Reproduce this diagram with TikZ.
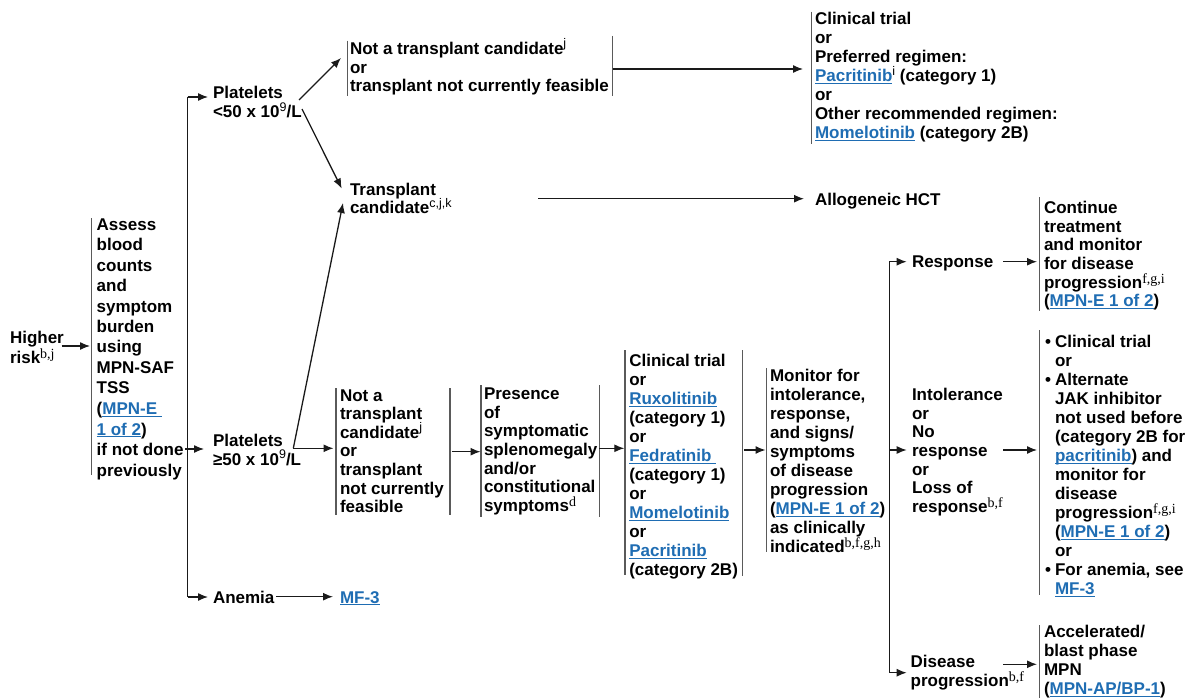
\documentclass[tikz,border=0pt]{standalone}
\usepackage{fontspec}
\setmainfont{Liberation Sans}
\newfontfamily\serifsup{Liberation Serif}
\usetikzlibrary{arrows.meta}
\definecolor{lnk}{HTML}{1F6DB3}
\definecolor{barc}{HTML}{5A5A5A}
\definecolor{linec}{HTML}{1A1A1A}
\newcommand{\lk}[1]{{\color{lnk}\setbox0=\hbox{#1}\rlap{\rule[-2.2pt]{\wd0}{1.1pt}}\box0}}
\newcommand{\ssup}[1]{\raisebox{6.5pt}[0pt][0pt]{\fontsize{12.5}{12.5}\selectfont\mdseries #1}}
\newcommand{\rsup}[1]{\raisebox{5pt}[0pt][0pt]{\fontsize{14}{14}\selectfont\serifsup\mdseries #1}}
\newcommand{\tb}[2]{{\fontsize{17}{#1}\selectfont\begin{tabular}[t]{@{}l@{}}#2\end{tabular}}}
\newcommand{\bul}{\makebox[10pt][l]{\textbullet}}
\newcommand{\ind}{\hspace*{10pt}}
\tikzset{
  txt/.style={anchor=base west, inner sep=0pt, outer sep=0pt, font=\fontsize{17}{19}\selectfont\bfseries},
  bar/.style={draw=barc, line width=1.5pt},
  arr/.style={draw=linec, line width=1.3pt, -{Latex[length=10pt,width=8pt]}},
  trunk/.style={draw=linec, line width=1.3pt},
}
\begin{document}
\begin{tikzpicture}[x=1pt, y=-1pt]
\useasboundingbox (0,0) rectangle (1200,698);
\fill[white] (0,0) rectangle (1200,698);

% ---------- text nodes ----------
\node[txt] (risk) at (10,343) {\tb{20.5}{Higher\\risk\rsup{b,j}}};
\node[txt] (assess) at (96.7,230) {\tb{20.5}{Assess\\blood\\counts\\and\\symptom\\burden\\using\\MPN-SAF\\TSS\\(\lk{MPN-E\ }\\\lk{1 of 2})\\if not done\\previously}};
\node[txt] (plt1) at (213,99) {\tb{18.7}{Platelets\\<50 x 10\ssup{9}/L}};
\node[txt] (ntc1) at (350,54.3) {\tb{18.8}{Not a transplant candidate\ssup{j}\\or\\transplant not currently feasible}};
\node[txt] (trialA) at (815,25) {\tb{19}{Clinical trial\\or\\Preferred regimen:\\\lk{Pacritinib}\ssup{i} (category 1)\\or\\Other recommended regimen:\\\lk{Momelotinib} (category 2B)}};
\node[txt] (tc) at (350,196) {\tb{18}{Transplant\\candidate\ssup{c,j,k}}};
\node[txt] (hct) at (815,205) {Allogeneic HCT};
\node[txt] (plt2) at (213,446) {\tb{19}{Platelets\\≥50 x 10\ssup{9}/L}};
\node[txt] (ntc2) at (340,401) {\tb{18.6}{Not a\\transplant\\candidate\ssup{j}\\or\\transplant\\not currently\\feasible}};
\node[txt] (pres) at (484,399.3) {\tb{18.7}{Presence\\of\\symptomatic\\splenomegaly\\and/or\\constitutional\\symptoms\rsup{d}}};
\node[txt] (trialB) at (629.3,366.7) {\tb{19}{Clinical trial\\or\\\lk{Ruxolitinib}\\(category 1)\\or\\\lk{Fedratinib\ }\\(category 1)\\or\\\lk{Momelotinib}\\or\\\lk{Pacritinib}\\(category 2B)}};
\node[txt] (mon) at (770,381) {\tb{19.07}{Monitor for\\intolerance,\\response,\\and signs/\\symptoms\\of disease\\progression\\(\lk{MPN-E 1 of 2})\\as clinically\\indicated\rsup{b,f,g,h}}};
\node[txt] (anem) at (213,603) {Anemia};
\node[txt] (mfthree) at (340,603) {\lk{MF-3}};
\node[txt] (resp) at (912,267) {Response};
\node[txt] (cont) at (1044,213.3) {\tb{18.7}{Continue\\treatment\\and monitor\\for disease\\progression\rsup{f,g,i}\\(\lk{MPN-E 1 of 2})}};
\node[txt] (intol) at (912,400.3) {\tb{18.7}{Intolerance\\or\\No\\response\\or\\Loss of\\response\rsup{b,f}}};
\node[txt] (alt) at (1045,347.7) {\tb{19}{\bul Clinical trial\\\ind or\\\bul Alternate\\\ind JAK inhibitor\\\ind not used before\\\ind (category 2B for\\\ind \lk{pacritinib}) and\\\ind monitor for\\\ind disease\\\ind progression\rsup{f,g,i}\\\ind (\lk{MPN-E 1 of 2})\\\ind or\\\bul For anemia, see\\\ind \lk{MF-3}}};
\node[txt] (dprog) at (910.7,667.7) {\tb{18.3}{Disease\\progression\rsup{b,f}}};
\node[txt] (accel) at (1044,637.7) {\tb{19}{Accelerated/\\blast phase\\MPN\\(\lk{MPN-AP/BP-1})}};

% ---------- bars ----------
\draw[bar] (91.7,218.3) -- (91.7,475);
\draw[bar] (347.3,40.7) -- (347.3,95.7);
\draw[bar] (612.7,36) -- (612.7,95.7);
\draw[bar] (811.7,11.7) -- (811.7,144);
\draw[bar] (336,388.3) -- (336,515);
\draw[bar] (450,388.3) -- (450,515);
\draw[bar] (481,385) -- (481,516.7);
\draw[bar] (599.3,385) -- (599.3,516.7);
\draw[bar] (625,350) -- (625,575);
\draw[bar] (742.7,350) -- (742.7,576);
\draw[bar] (766.7,368.3) -- (766.7,551.7);
\draw[bar] (1039.3,197.3) -- (1039.3,310.7);
\draw[bar] (1039.3,330) -- (1039.3,595);
\draw[bar] (1039.3,625) -- (1039.3,698);

% ---------- connector end points ----------
\coordinate (riskE) at (61.7,346);
\coordinate (assessW) at (90,346);
\coordinate (assessE) at (185,449);
\coordinate (plt2W) at (204,449);
\coordinate (tkTop) at (187.7,97);
\coordinate (tkBot) at (187.7,597);
\coordinate (plt1W) at (208,97);
\coordinate (anemW) at (208,597);
\coordinate (plt1U) at (299,100);
\coordinate (plt1D) at (302,109);
\coordinate (ntc1W) at (341,58);
\coordinate (tcNW) at (341.7,188.5);
\coordinate (tcSW) at (343,203);
\coordinate (plt2E) at (293.3,448.3);
\coordinate (ntc2W) at (333.5,448.3);
\coordinate (ntc1E) at (612.7,69);
\coordinate (trialAW) at (803,69);
\coordinate (tcE) at (538.3,198.7);
\coordinate (hctW) at (804,198.7);
\coordinate (ntc2E) at (451.7,451.7);
\coordinate (presW) at (480.5,451.7);
\coordinate (presE) at (599.3,448.3);
\coordinate (trialBW) at (624.3,448.3);
\coordinate (trialBE) at (744,450);
\coordinate (monW) at (765.5,450);
\coordinate (tk2Top) at (889.3,261.7);
\coordinate (tk2Mid) at (889.3,450);
\coordinate (tk2Bot) at (889.3,672.7);
\coordinate (respW) at (906.7,261.7);
\coordinate (intolW) at (906.7,450);
\coordinate (dprogW) at (906.7,672.7);
\coordinate (respE) at (1003,261.7);
\coordinate (contW) at (1037,261.7);
\coordinate (intolE) at (1003,450);
\coordinate (altW) at (1037,450);
\coordinate (dprogE) at (1003,664.3);
\coordinate (accelW) at (1037,664.3);
\coordinate (anemE) at (276,596.7);
\coordinate (mfW) at (333,596.7);

% ---------- connectors ----------
\draw[arr] (riskE) -- (assessW);
\draw[trunk] (tkTop) -- (tkBot);
\draw[arr] (tkTop) -- (plt1W);
\draw[arr] (tkBot) -- (anemW);
\draw[arr] (assessE) -- (plt2W);
\draw[arr] (plt1U) -- (ntc1W);
\draw[arr] (plt1D) -- (tcNW);
\draw[arr] (plt2E) -- (tcSW);
\draw[arr] (plt2E) -- (ntc2W);
\draw[arr] (ntc1E) -- (trialAW);
\draw[arr] (tcE) -- (hctW);
\draw[arr] (ntc2E) -- (presW);
\draw[arr] (presE) -- (trialBW);
\draw[arr] (trialBE) -- (monW);
\draw[trunk] (tk2Top) -- (tk2Bot);
\draw[arr] (tk2Top) -- (respW);
\draw[arr] (tk2Mid) -- (intolW);
\draw[arr] (tk2Bot) -- (dprogW);
\draw[arr] (respE) -- (contW);
\draw[arr] (intolE) -- (altW);
\draw[arr] (dprogE) -- (accelW);
\draw[arr] (anemE) -- (mfW);
\end{tikzpicture}
\end{document}
